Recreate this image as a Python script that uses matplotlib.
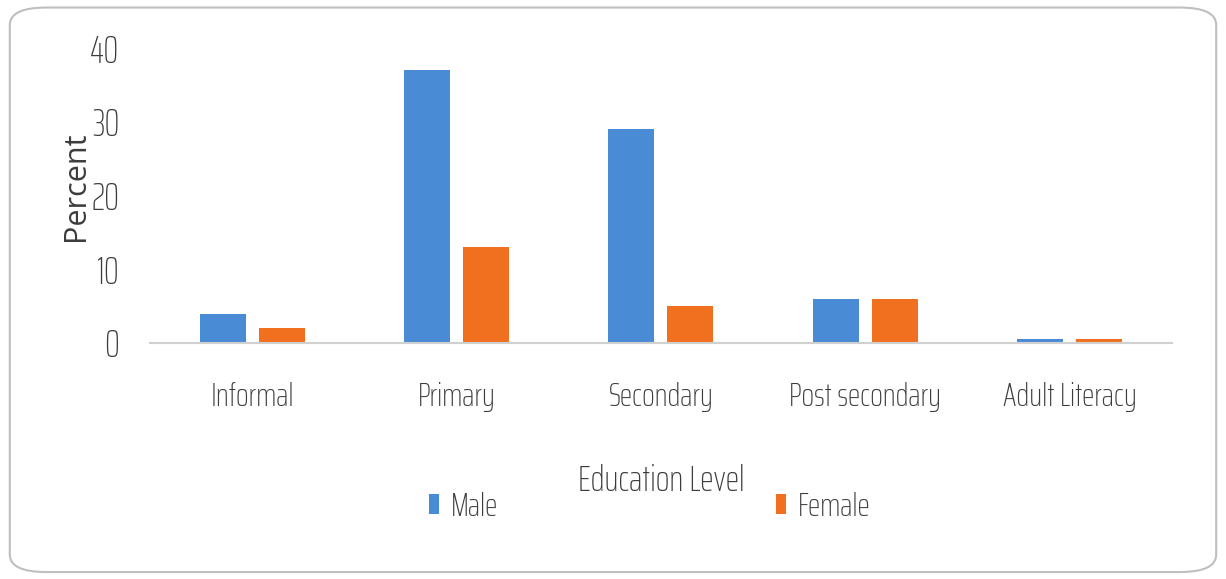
import matplotlib.pyplot as plt
import numpy as np
from matplotlib.patches import FancyBboxPatch

categories = ['Informal', 'Primary', 'Secondary', 'Post secondary', 'Adult Literacy']
male = [4, 37, 29, 6, 0.5]
female = [2, 13, 5, 6, 0.5]

narrow = ['Saira ExtraCondensed', 'DejaVu Sans']
text_color = '#3C3C3C'

fig = plt.figure(figsize=(12.26, 5.79), dpi=100)
ax = fig.add_axes([0.1223, 0.4076, 0.8336, 0.5094])

x = np.arange(len(categories))
w = 0.225
gap = 0.064
ax.bar(x - (w + gap) / 2, male, w, color='#4A8BD6', label='Male')
ax.bar(x + (w + gap) / 2, female, w, color='#F0701F', label='Female')

ax.set_xlim(-0.5, len(categories) - 0.5)
ax.set_ylim(0, 40)
ax.set_yticks([0, 10, 20, 30, 40])
ax.set_xticks(x)
ax.set_xticklabels(categories, family=narrow, fontsize=24, fontweight='light',
                   color=text_color)
for lab in ax.get_yticklabels():
    lab.set_family(narrow)
    lab.set_fontsize(27)
    lab.set_fontweight('light')
    lab.set_color(text_color)
ax.tick_params(axis='both', length=0)
ax.tick_params(axis='x', pad=28)
ax.tick_params(axis='y', pad=22)

for side in ['top', 'right', 'left']:
    ax.spines[side].set_visible(False)
ax.spines['bottom'].set_color('#D0D0D0')
ax.spines['bottom'].set_linewidth(1.5)

# wide-looking axis title, as in the original
ax.set_ylabel('Percent', family=['Open Sans', 'DejaVu Sans'], fontsize=22,
              color=text_color)
ax.yaxis.set_label_coords(-0.058, 0.53)

fig.text(0.539, 0.17, 'Education Level', family=narrow, fontsize=26,
         fontweight='light', color=text_color, ha='center', va='center')

fig.legend(loc='center', bbox_to_anchor=(0.530, 0.124), ncol=2, frameon=False,
           prop={'family': narrow, 'size': 24, 'weight': 'light'},
           labelcolor=text_color,
           handlelength=0.3, handleheight=0.55, handletextpad=0.35,
           columnspacing=8.35)

border = FancyBboxPatch((0.008, 0.012), 0.984, 0.975, transform=fig.transFigure,
                        boxstyle='round,pad=0,rounding_size=0.03',
                        facecolor='none', edgecolor='#BFBFBF', linewidth=1.5)
fig.patches.append(border)

fig.savefig('out.png', dpi=100)
